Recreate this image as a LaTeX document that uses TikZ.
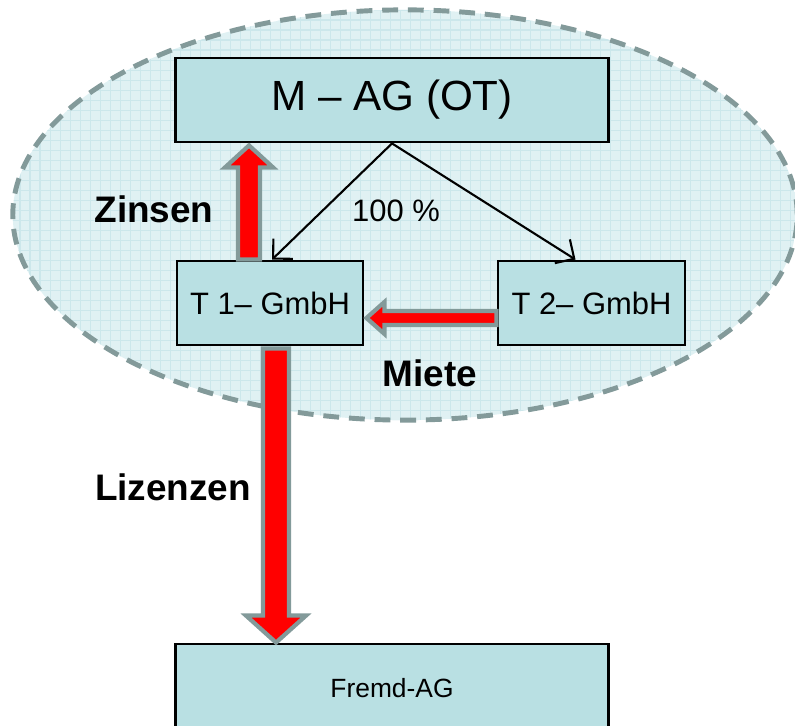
\documentclass[tikz,border=0pt]{standalone}
\usepackage{fontspec}
\setmainfont{Liberation Sans}
\usetikzlibrary{calc,arrows.meta}
\definecolor{boxfill}{RGB}{185,224,227}
\definecolor{ellfill}{RGB}{224,241,243}
\definecolor{gridc}{RGB}{204,231,235}
\definecolor{outl}{RGB}{131,154,154}
\definecolor{arrred}{RGB}{255,0,0}
\begin{document}
\begin{tikzpicture}[x=0.01cm,y=-0.01cm,
  box/.style={draw=black,line width=0.8pt,fill=boxfill,inner sep=0pt},
  thin/.style={draw=black,line width=0.6pt,-{Straight Barb[length=4pt,width=8pt]}},
  blockarrow/.style={draw=outl,fill=arrred,line width=1.2pt,line join=miter},
  lbl/.style={font=\fontsize{10.5}{12}\selectfont\bfseries,inner sep=0pt}]
\useasboundingbox (0,0) rectangle (795,725);
\begin{scope}
  \clip (405,215) ellipse [x radius=3.92cm,y radius=2.05cm];
  \fill[ellfill] (0,0) rectangle (795,725);
  \draw[gridc,line width=0.3pt,step=0.1cm] (0,0) grid (795,725);
\end{scope}
\draw[outl,line width=1.4pt,dash pattern=on 4.5pt off 2.8pt] (405,215) ellipse [x radius=3.92cm,y radius=2.05cm];

\node[box,minimum width=4.32cm,minimum height=0.84cm,font=\fontsize{12}{14}\selectfont] (m) at (392,100) {M -- AG (OT)};
\node[box,minimum width=1.86cm,minimum height=0.84cm,font=\fontsize{8.8}{10}\selectfont] (t1) at (270,303) {T 1-- GmbH};
\node[box,minimum width=1.87cm,minimum height=0.84cm,font=\fontsize{8.8}{10}\selectfont] (t2) at (591.5,303) {T 2-- GmbH};
\node[box,minimum width=4.32cm,minimum height=0.88cm,font=\fontsize{7.5}{9}\selectfont] (f) at (392,688) {Fremd-AG};

\draw[thin] (m.south) -- ($(t1.north)+(2,0)$);
\draw[thin] (m.south) -- ($(t2.north)+(-16,0)$);

% Zinsen arrow (up)
\coordinate (zs) at ($(t1.north)+(-21,0)$);
\coordinate (ze) at ($(m.south)+(-143,0)$);
\draw[blockarrow] ($(zs)+(-11,0)$) -- ($(ze)+(-11,24)$) -- ($(ze)+(-24,24)$) -- ($(ze)+(0,2)$)
  -- ($(ze)+(24,24)$) -- ($(ze)+(11,24)$) -- ($(zs)+(11,0)$) -- cycle;
% Miete arrow (left)
\coordinate (ms) at ($(t2.west)+(0,15)$);
\coordinate (me) at ($(t1.east)+(0,15)$);
\draw[blockarrow] ($(ms)+(0,-7)$) -- ($(me)+(20,-7)$) -- ($(me)+(20,-16)$) -- ($(me)+(2,0)$)
  -- ($(me)+(20,16)$) -- ($(me)+(20,7)$) -- ($(ms)+(0,7)$) -- cycle;
% Lizenzen arrow (down)
\coordinate (ls) at ($(t1.south)+(6,0)$);
\coordinate (le) at ($(f.north)+(-116,0)$);
\draw[blockarrow] ($(ls)+(-13,2)$) -- ($(le)+(-13,-27)$) -- ($(le)+(-30,-27)$) -- ($(le)+(0,0)$)
  -- ($(le)+(30,-27)$) -- ($(le)+(13,-27)$) -- ($(ls)+(13,2)$) -- cycle;

\node[lbl] (zinsen) at (154,209) {Zinsen};
\node[lbl] (miete) at (430,373) {Miete};
\node[lbl] (lizenzen) at (173,487) {Lizenzen};
\node[font=\fontsize{8.8}{10}\selectfont,inner sep=0pt] (pct) at (396,211) {100 \%};
\end{tikzpicture}
\end{document}
